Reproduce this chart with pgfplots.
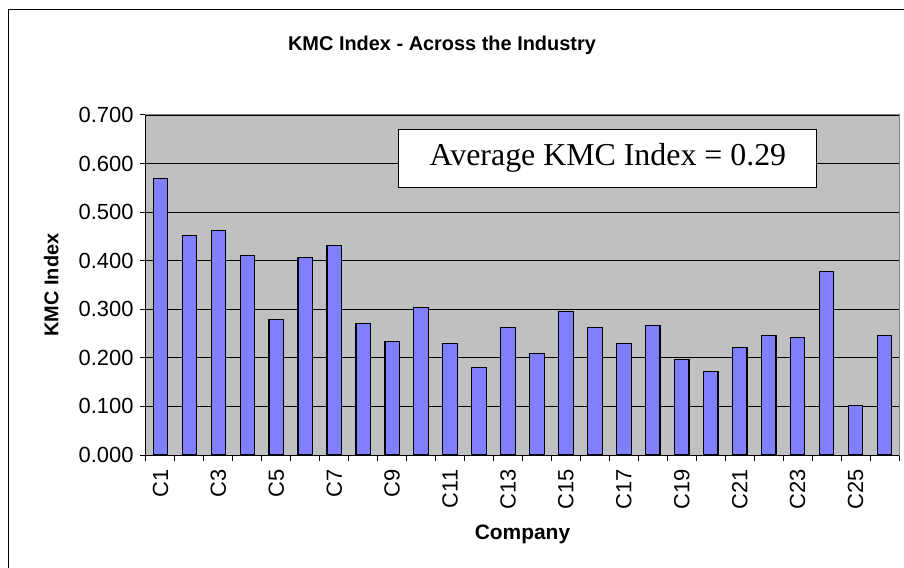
\documentclass[border=0pt]{standalone}
\usepackage{fontspec}
\setmainfont{Liberation Sans}
\newfontfamily\timesfont{Liberation Serif}
\usepackage{pgfplots}
\pgfplotsset{compat=1.18}
\definecolor{plotbg}{HTML}{C0C0C0}
\definecolor{barfill}{HTML}{8080FF}
\definecolor{framegray}{HTML}{808080}
\begin{document}
\begin{tikzpicture}
\begin{axis}[
  scale only axis, width=753bp, height=340bp,
  xmin=0.5, xmax=26.5, ymin=0, ymax=0.7,
  ytick={0,0.1,0.2,0.3,0.4,0.5,0.6,0.7},
  yticklabel={\pgfmathprintnumber[fixed,fixed zerofill,precision=3,assume math mode=true]{\tick}},
  /pgf/number format/assume math mode=true,
  xtick={1,3,...,25},
  xticklabels={C1,C3,C5,C7,C9,C11,C13,C15,C17,C19,C21,C23,C25},
  minor xtick={0.5,1.5,...,26.5},
  xtick pos=lower, ytick pos=left,
  major x tick style={draw=none},
  tick align=outside,
  major tick length=6bp, minor tick length=6bp,
  tick style={black, line width=1bp},
  axis line style={framegray, line width=1bp},
  axis background/.style={fill=plotbg},
  ymajorgrids, major grid style={black, line width=0.75bp},
  x tick label style={rotate=90, anchor=east, xshift=-5bp, font=\fontsize{22}{26}\selectfont},
  y tick label style={xshift=-3bp, font=\fontsize{22}{26}\selectfont},
  clip=false,
]
\addplot[ybar, bar width=14.5bp, fill=barfill, draw=black, line width=1.2bp] coordinates {
(1,0.570) (2,0.452) (3,0.463) (4,0.410) (5,0.279) (6,0.406) (7,0.431)
(8,0.270) (9,0.233) (10,0.303) (11,0.229) (12,0.180) (13,0.262) (14,0.209)
(15,0.295) (16,0.262) (17,0.229) (18,0.266) (19,0.196) (20,0.172) (21,0.222)
(22,0.246) (23,0.242) (24,0.377) (25,0.102) (26,0.246)};
\draw[black, line width=1bp] (rel axis cs:0,1) -- (rel axis cs:0,0) -- (rel axis cs:1,0);
\node[draw=black, fill=white, line width=1bp, minimum width=418bp, minimum height=58bp, inner sep=0pt,
  font=\timesfont\fontsize{32}{38}\selectfont] at (rel axis cs:0.6135,0.8735) {Average KMC Index = 0.29};
\coordinate (O) at (rel axis cs:0,0);
\end{axis}
\node[font=\bfseries\fontsize{20}{24}\selectfont, anchor=base] at ([shift={(296bp,404bp)}]O) {KMC Index - Across the Industry};
\node[font=\bfseries\fontsize{21}{25}\selectfont, anchor=base] at ([shift={(376.5bp,-84bp)}]O) {Company};
\node[font=\bfseries\fontsize{20}{24}\selectfont, anchor=base, rotate=90] at ([shift={(-87.7bp,170bp)}]O) {KMC Index};
\draw[black, line width=1bp] ([shift={(-137.7bp,-130bp)}]O) -- ([shift={(-137.7bp,445bp)}]O) -- ([shift={(780bp,445bp)}]O);
\pgfresetboundingbox
\path[use as bounding box] ([shift={(-146bp,-113bp)}]O) rectangle ([shift={(758bp,455bp)}]O);
\end{tikzpicture}
\end{document}
